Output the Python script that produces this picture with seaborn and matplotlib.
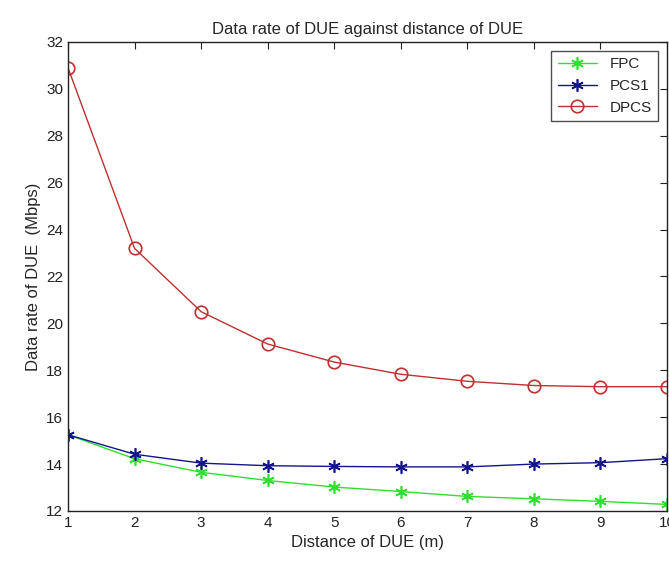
import matplotlib
matplotlib.use("Agg")
import matplotlib.pyplot as plt
import seaborn as sns
import pandas as pd

distance = [1, 2, 3, 4, 5, 6, 7, 8, 9, 10]
fpc = [15.25, 14.23, 13.65, 13.30, 13.02, 12.83, 12.62, 12.52, 12.41, 12.28]
pcs1 = [15.25, 14.42, 14.04, 13.93, 13.90, 13.88, 13.88, 14.00, 14.06, 14.23]
dpcs = [30.9, 23.2, 20.5, 19.12, 18.35, 17.83, 17.53, 17.35, 17.30, 17.30]

series = {"FPC": fpc, "PCS1": pcs1, "DPCS": dpcs}
colors = {"FPC": "#2ee02e", "PCS1": "#14148c", "DPCS": "#c03030"}
# matlab-style asterisk and open circle
markers = {"FPC": (6, 2, 0), "PCS1": (6, 2, 0), "DPCS": "o"}

df = pd.DataFrame(
    [(d, name, v) for name, vals in series.items() for d, v in zip(distance, vals)],
    columns=["distance", "scheme", "rate"],
)

sns.set_style("white")
plt.rcParams["font.family"] = ["Liberation Sans", "DejaVu Sans"]

fig = plt.figure(figsize=(6.69, 5.67), dpi=100)
ax = fig.add_axes([0.1016, 0.0988, 0.8954, 0.8272])

for name in series:
    sub = df[df["scheme"] == name]
    sns.lineplot(data=sub, x="distance", y="rate", ax=ax, color=colors[name],
                 marker=markers[name], markersize=9,
                 markerfacecolor="none" if name == "DPCS" else colors[name],
                 markeredgecolor=colors[name], markeredgewidth=1.2,
                 linewidth=1.0, label=name)

ax.set_xlim(1, 10)
ax.set_ylim(12, 32)
ax.set_xticks(range(1, 11))
ax.set_yticks(range(12, 33, 2))
ax.tick_params(direction="in", top=True, right=True, length=5, labelsize=11,
               colors="#222222")
for s in ax.spines.values():
    s.set_color("#222222")
    s.set_linewidth(1.0)

ax.set_title("Data rate of DUE against distance of DUE", fontsize=12)
ax.set_xlabel("Distance of DUE (m)", fontsize=12)
ax.set_ylabel("Data rate of DUE  (Mbps)", fontsize=12)

leg = ax.legend(loc="upper right", fontsize=11, frameon=True, fancybox=False,
                edgecolor="#222222", handlelength=2.6, borderaxespad=0.6)
leg.get_frame().set_linewidth(1.0)

fig.savefig("out.png", dpi=100)
